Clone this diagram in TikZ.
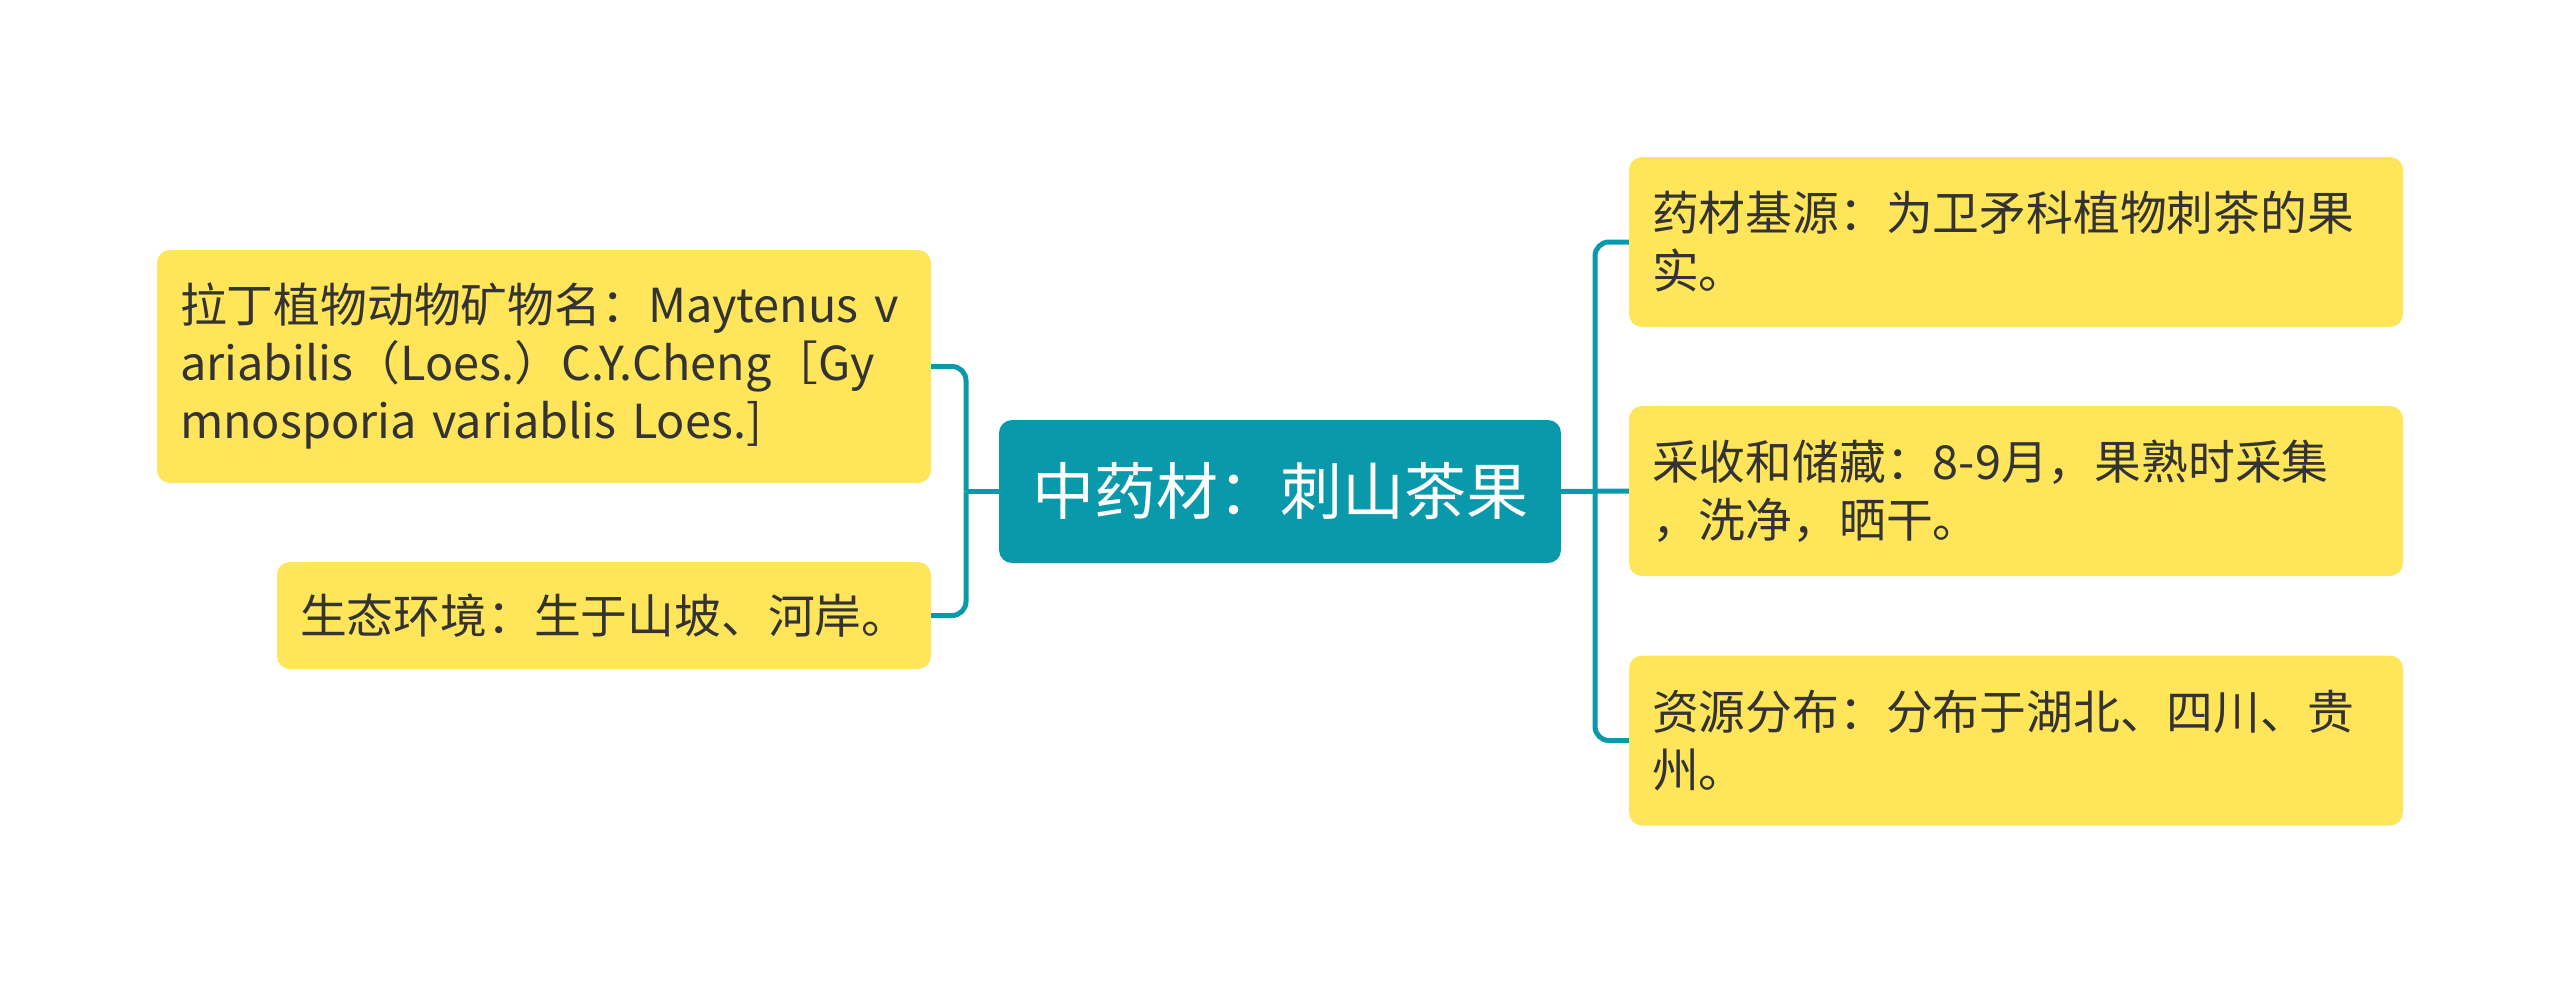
\documentclass[tikz,border=0pt]{standalone}
\usepackage{fontspec}
\setmainfont[WordSpace=0.75]{Noto Sans CJK SC}
\definecolor{boxyellow}{HTML}{FFE55A}
\definecolor{teal1}{HTML}{0A99AA}
\definecolor{txt}{HTML}{333333}
\tikzset{
  x=1pt, y=1pt,
  leaf/.style={fill=boxyellow, rounded corners=13pt, inner xsep=23pt, inner ysep=0pt,
    align=left, text=txt, font=\fontsize{46.8pt}{58pt}\selectfont},
  root/.style={fill=teal1, rounded corners=13pt, inner sep=0pt, align=center,
    text=white, font=\fontsize{62pt}{74pt}\selectfont},
  conn/.style={draw=teal1, line width=5pt, rounded corners=14pt}
}
\begin{document}
\begin{tikzpicture}
\useasboundingbox (0,0) rectangle (2560,-983);
\node[root, minimum width=562pt, minimum height=143pt] (c) at (1280,-491.5) {中药材：刺山茶果};
\node[leaf, text width=728pt, minimum height=233pt] (L1) at (544,-366.5)
  {拉丁植物动物矿物名：Maytenus v\\ariabilis（Loes.）C.Y.Cheng［Gy\\mnosporia variablis Loes.]};
\node[leaf, text width=608pt, minimum height=107pt] (L2) at (604,-615.5)
  {生态环境：生于山坡、河岸。};
\node[leaf, text width=728pt, minimum height=170pt] (R1) at (2016,-242)
  {药材基源：为卫矛科植物刺茶的果\\实。};
\node[leaf, text width=728pt, minimum height=170pt] (R2) at (2016,-491)
  {采收和储藏：8-9月，果熟时采集\\，洗净，晒干。};
\node[leaf, text width=728pt, minimum height=170pt] (R3) at (2016,-740.5)
  {资源分布：分布于湖北、四川、贵\\州。};
\coordinate (rj) at (1595,-491.5);
\coordinate (lj) at (966,-491.5);
\draw[conn] (c.east) -- (R2.west);
\draw[conn] (rj) |- (R1.west);
\draw[conn] (rj) |- (R3.west);
\draw[conn] (c.west) -- (lj);
\draw[conn] (lj) |- (L1.east);
\draw[conn] (lj) |- (L2.east);
\end{tikzpicture}
\end{document}
